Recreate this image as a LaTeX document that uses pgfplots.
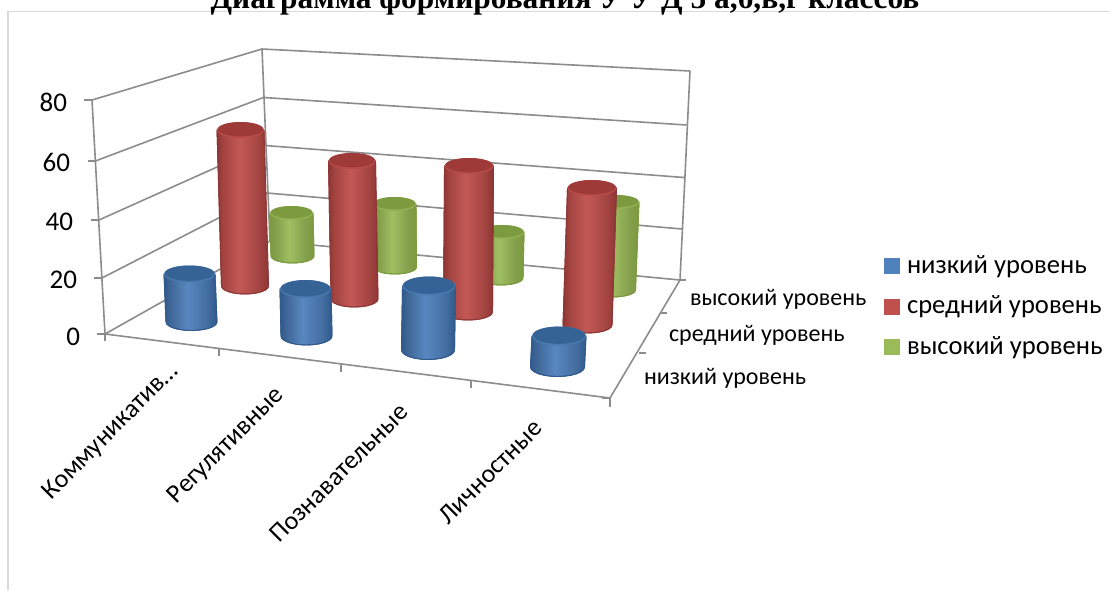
\documentclass[border=0pt]{standalone}
\usepackage{fontspec}
\usepackage{pgfplots}
\usepackage{pgfplotstable}
\pgfplotsset{compat=1.18}
\setmainfont{Carlito}
\newfontfamily\titlefont{Liberation Serif}
\tikzset{every node/.append style={inner sep=0pt, outer sep=0pt}}

\definecolor{wallgray}{HTML}{8C8C8C}
\definecolor{framegray}{HTML}{D9D9D9}
\definecolor{lowblue}{HTML}{4F81BD}
\definecolor{midred}{HTML}{C0504D}
\definecolor{highgreen}{HTML}{9BBB59}
% caps, rims under the caps and body edges of each row
\definecolor{capblue}{HTML}{366396}
\definecolor{capred}{HTML}{9E3B39}
\definecolor{capgreen}{HTML}{7C9A3E}
\definecolor{rimblue}{HTML}{4A7AB0}
\definecolor{rimred}{HTML}{B84C4A}
\definecolor{rimgreen}{HTML}{93B254}
\definecolor{edgeblue}{HTML}{305A8C}
\definecolor{edgered}{HTML}{8E3634}
\definecolor{edgegreen}{HTML}{7C9A3E}

% horizontal shading of the cylinder bodies (box maps on 25bp..75bp)
\pgfdeclarehorizontalshading{cylblue}{100bp}{color(0bp)=(edgeblue);color(25bp)=(edgeblue);color(31bp)=(lowblue!80!black);color(47bp)=(lowblue!95!white);color(66bp)=(lowblue!85!black);color(75bp)=(edgeblue);color(100bp)=(edgeblue)}
\pgfdeclarehorizontalshading{cylred}{100bp}{color(0bp)=(edgered);color(25bp)=(edgered);color(31bp)=(midred!85!black);color(47bp)=(midred!95!white);color(66bp)=(midred!85!black);color(75bp)=(edgered);color(100bp)=(edgered)}
\pgfdeclarehorizontalshading{cylgreen}{100bp}{color(0bp)=(edgegreen);color(25bp)=(edgegreen);color(31bp)=(highgreen!85!black);color(47bp)=(highgreen!95!white);color(66bp)=(highgreen!85!black);color(75bp)=(edgegreen);color(100bp)=(edgegreen)}

% outline of a cylinder body on the unit circle: t=1 top, t=0 bottom
\pgfplotstableread{
u v t
-1 0 1
1 0 1
1 0 0
0.966 0.259 0
0.866 0.5 0
0.707 0.707 0
0.5 0.866 0
0.259 0.966 0
0 1 0
-0.259 0.966 0
-0.5 0.866 0
-0.707 0.707 0
-0.866 0.5 0
-0.966 0.259 0
-1 0 0
}\bodyprofile

\pgfplotstableread{
u v
1 0
0.966 0.259
0.866 0.5
0.707 0.707
0.5 0.866
0.259 0.966
0 1
-0.259 0.966
-0.5 0.866
-0.707 0.707
-0.866 0.5
-0.966 0.259
-1 0
-0.966 -0.259
-0.866 -0.5
-0.707 -0.707
-0.5 -0.866
-0.259 -0.966
0 -1
0.259 -0.966
0.5 -0.866
0.707 -0.707
0.866 -0.5
0.966 -0.259
}\capprofile

% #1 base x, #2 top x, #3 base y, #4 rx, #5 ry, #6 value, #7 px per unit, #8 row colour name
\newcommand{\cyl}[8]{
  \addplot[draw=edge#8, line width=0.9pt, line join=round, preaction={shade, shading=cyl#8}] table[x expr={#1+\thisrow{t}*(#2-(#1))+#4*\thisrow{u}}, y expr={#3-\thisrow{t}*#6*#7+#5*\thisrow{v}}] {\bodyprofile} -- cycle;
  \addplot[draw=none, fill=rim#8] table[x expr={#2+#4*\thisrow{u}}, y expr={#3-#6*#7+#5*\thisrow{v}}] {\capprofile} -- cycle;
  \addplot[draw=none, fill=cap#8] table[x expr={#2+(#4-0.8)*\thisrow{u}}, y expr={#3-#6*#7-0.8+(#5-0.8)*\thisrow{v}}] {\capprofile} -- cycle;
}
\newcommand{\wall}[1]{\addplot[wallgray, line width=1.6pt] coordinates {#1};}

\begin{document}
\begin{tikzpicture}
\useasboundingbox (0,0) rectangle (1110pt,590pt);
\clip (0,0) rectangle (1110pt,590pt);
\begin{axis}[
    at={(0,0)}, anchor=south west,
    scale only axis, width=1110pt, height=590pt,
    xmin=0, xmax=1110, ymin=0, ymax=590,
    y dir=reverse,
    hide axis, clip=false,
]
% frame
\addplot[framegray, line width=1.5pt] coordinates {(8,590) (8,11.5) (1110,11.5)};

% left wall grid
\wall{(92,100) (262,49)}
\wall{(95.4,161) (263.5,97.5)}
\wall{(99,220) (265,145.5)}
\wall{(102,278) (267,193)}
% back wall grid
\wall{(262,49) (690,71)}
\wall{(263.5,97.5) (686.5,125)}
\wall{(265,145.5) (684,177.5)}
\wall{(267,193) (682,229)}
% floor
\wall{(105,334) (270,241) (680,280) (610,398) (105,334)}
% verticals
\wall{(92,100) (105,334)}
\wall{(262,49) (270,241)}
\wall{(690,71) (680,280)}
% value ticks
\wall{(84,100) (92,100)}
\wall{(88,161) (95.4,161)}
\wall{(91,220) (99,220)}
\wall{(94,278) (102,278)}
\wall{(97,334) (105,334)}
% category ticks
\wall{(105,334) (105,341)}
\wall{(219,349) (219,356)}
\wall{(341,365) (341,372)}
\wall{(471,381) (471,388)}
\wall{(610,398) (610,407)}
% depth ticks
\wall{(610,398) (602,398)}
\wall{(639,353) (646,353)}
\wall{(660,313) (667,313)}
\wall{(680,280) (686,280)}

% back row: высокий уровень
\cyl{292.5}{291.5}{256}{21.5}{7}{17}{2.529}{green}
\cyl{395}{394.5}{267}{21.5}{7}{25}{2.52}{green}
\cyl{501}{502}{278}{22}{7}{18}{2.556}{green}
\cyl{612.5}{616}{290}{23}{7}{33}{2.667}{green}
% middle row: средний уровень
\cyl{245}{240.5}{286}{23.5}{8}{60}{2.6}{red}
\cyl{354.5}{352}{299}{23.5}{8}{52}{2.654}{red}
\cyl{468}{469}{312}{24.5}{8}{54}{2.704}{red}
\cyl{587.5}{592}{325}{24.5}{8}{50}{2.74}{red}
% front row: низкий уровень
\cyl{191.5}{189.5}{322}{25.5}{8.5}{17}{2.824}{blue}
\cyl{306.5}{305.5}{336}{25.5}{9}{16}{2.9375}{blue}
\cyl{428}{429}{350}{26.5}{9.5}{21}{3.048}{blue}
\cyl{557.5}{559}{367}{27}{9.5}{10}{3.1}{blue}

% value labels
\node[anchor=base east, font=\fontsize{27}{30}\selectfont] at (axis cs:67,111) {80};
\node[anchor=base east, font=\fontsize{27}{30}\selectfont] at (axis cs:70,171) {60};
\node[anchor=base east, font=\fontsize{27}{30}\selectfont] at (axis cs:73,230) {40};
\node[anchor=base east, font=\fontsize{27}{30}\selectfont] at (axis cs:77,288) {20};
\node[anchor=base east, font=\fontsize{27}{30}\selectfont] at (axis cs:80,345) {0};

% category labels
\node[anchor=east, rotate=45, font=\fontsize{26}{30}\selectfont] at (axis cs:175,368) {Коммуникатив…};
\node[anchor=east, rotate=45, font=\fontsize{26}{30}\selectfont] at (axis cs:280,392) {Регулятивные};
\node[anchor=east, rotate=45, font=\fontsize{26}{30}\selectfont] at (axis cs:404,408) {Познавательные};
\node[anchor=east, rotate=45, font=\fontsize{26}{30}\selectfont] at (axis cs:538,424) {Личностные};

% depth labels
\node[anchor=base west, font=\fontsize{24}{28}\selectfont] at (axis cs:690,305) {высокий уровень};
\node[anchor=base west, font=\fontsize{24}{28}\selectfont] at (axis cs:669,341) {средний уровень};
\node[anchor=base west, font=\fontsize{24}{28}\selectfont] at (axis cs:644,384) {низкий уровень};

% legend
\addplot[only marks, color=lowblue, mark=square*, mark size=7.5pt] coordinates {(891.5,265.5)};
\addplot[only marks, color=midred, mark=square*, mark size=7.5pt] coordinates {(891.5,306.5)};
\addplot[only marks, color=highgreen, mark=square*, mark size=7.5pt] coordinates {(891.5,346.5)};
\node[anchor=base west, font=\fontsize{26.6}{30}\selectfont] at (axis cs:907,273) {низкий уровень};
\node[anchor=base west, font=\fontsize{26.6}{30}\selectfont] at (axis cs:907,313) {средний уровень};
\node[anchor=base west, font=\fontsize{26.6}{30}\selectfont] at (axis cs:907,354) {высокий уровень};

% title, cut by the top of the picture
\node[anchor=base, font=\titlefont\bfseries\fontsize{31.4}{36}\selectfont] at (axis cs:565,8) {Диаграмма формирования У У Д 5 а,б,в,г классов};
\end{axis}
\end{tikzpicture}
\end{document}
